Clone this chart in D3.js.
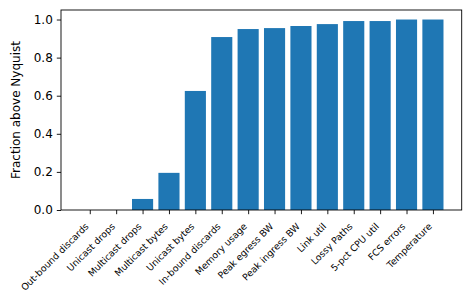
<!DOCTYPE html>
<html><head><meta charset="utf-8">
<script src="https://cdn.jsdelivr.net/npm/d3@7"></script>
<style>body{margin:0;background:#fff}svg{display:block}text{font-family:"DejaVu Sans",sans-serif;fill:#000}</style>
</head><body>
<svg id="c" width="471" height="304"></svg>
<script>
const categories = ["Out-bound discards","Unicast drops","Multicast drops","Multicast bytes","Unicast bytes","In-bound discards","Memory usage","Peak egress BW","Peak ingress BW","Link util","Lossy Paths","5-pct CPU util","FCS errors","Temperature"];
const values = [0, 0, 0.058, 0.195, 0.625, 0.908, 0.950, 0.955, 0.966, 0.976, 0.992, 0.992, 1.0, 1.0];
const yTicks = [0, 0.2, 0.4, 0.6, 0.8, 1.0];

const svg = d3.select("#c");
const L = 61, R = 461.7, T = 10, B = 210;
const n = categories.length;
const pad = (n - 1 + 0.8) * 0.05;
const x = d3.scaleLinear().domain([-0.4 - pad, n - 1 + 0.4 + pad]).range([L, R]);
const y = d3.scaleLinear().domain([0, 1.05]).range([B, T]);

svg.append("g").selectAll("rect").data(values).join("rect")
  .attr("x", (d, i) => x(i - 0.4)).attr("width", x(0.8) - x(0))
  .attr("y", d => y(d)).attr("height", d => y(0) - y(d))
  .attr("fill", "#1f77b4");

const yAxis = svg.append("g").attr("transform", `translate(${L},0)`)
  .call(d3.axisLeft(y).tickValues(yTicks).tickFormat(d3.format(".1f")).tickSize(4.2).tickPadding(4));
yAxis.select(".domain").remove();
yAxis.selectAll("text").attr("font-size", "12px");

const xAxis = svg.append("g").attr("transform", `translate(0,${B})`)
  .call(d3.axisBottom(x).tickValues(d3.range(n)).tickFormat(i => categories[i]).tickSize(4.2).tickPadding(4));
xAxis.select(".domain").remove();
xAxis.selectAll("text")
  .attr("font-size", "9.3px")
  .attr("text-anchor", "end")
  .attr("dy", null)
  .attr("y", 0)
  .attr("transform", "translate(-1,17) rotate(-45)");

svg.selectAll(".tick line").attr("stroke", "#000").attr("stroke-width", 0.9);

svg.append("rect").attr("x", L).attr("y", T).attr("width", R - L).attr("height", B - T)
  .attr("fill", "none").attr("stroke", "#000").attr("stroke-width", 0.9);

svg.append("text").attr("transform", `translate(20,${(T + B) / 2}) rotate(-90)`)
  .attr("text-anchor", "middle").attr("font-size", "12px").text("Fraction above Nyquist");
</script>
</body></html>
